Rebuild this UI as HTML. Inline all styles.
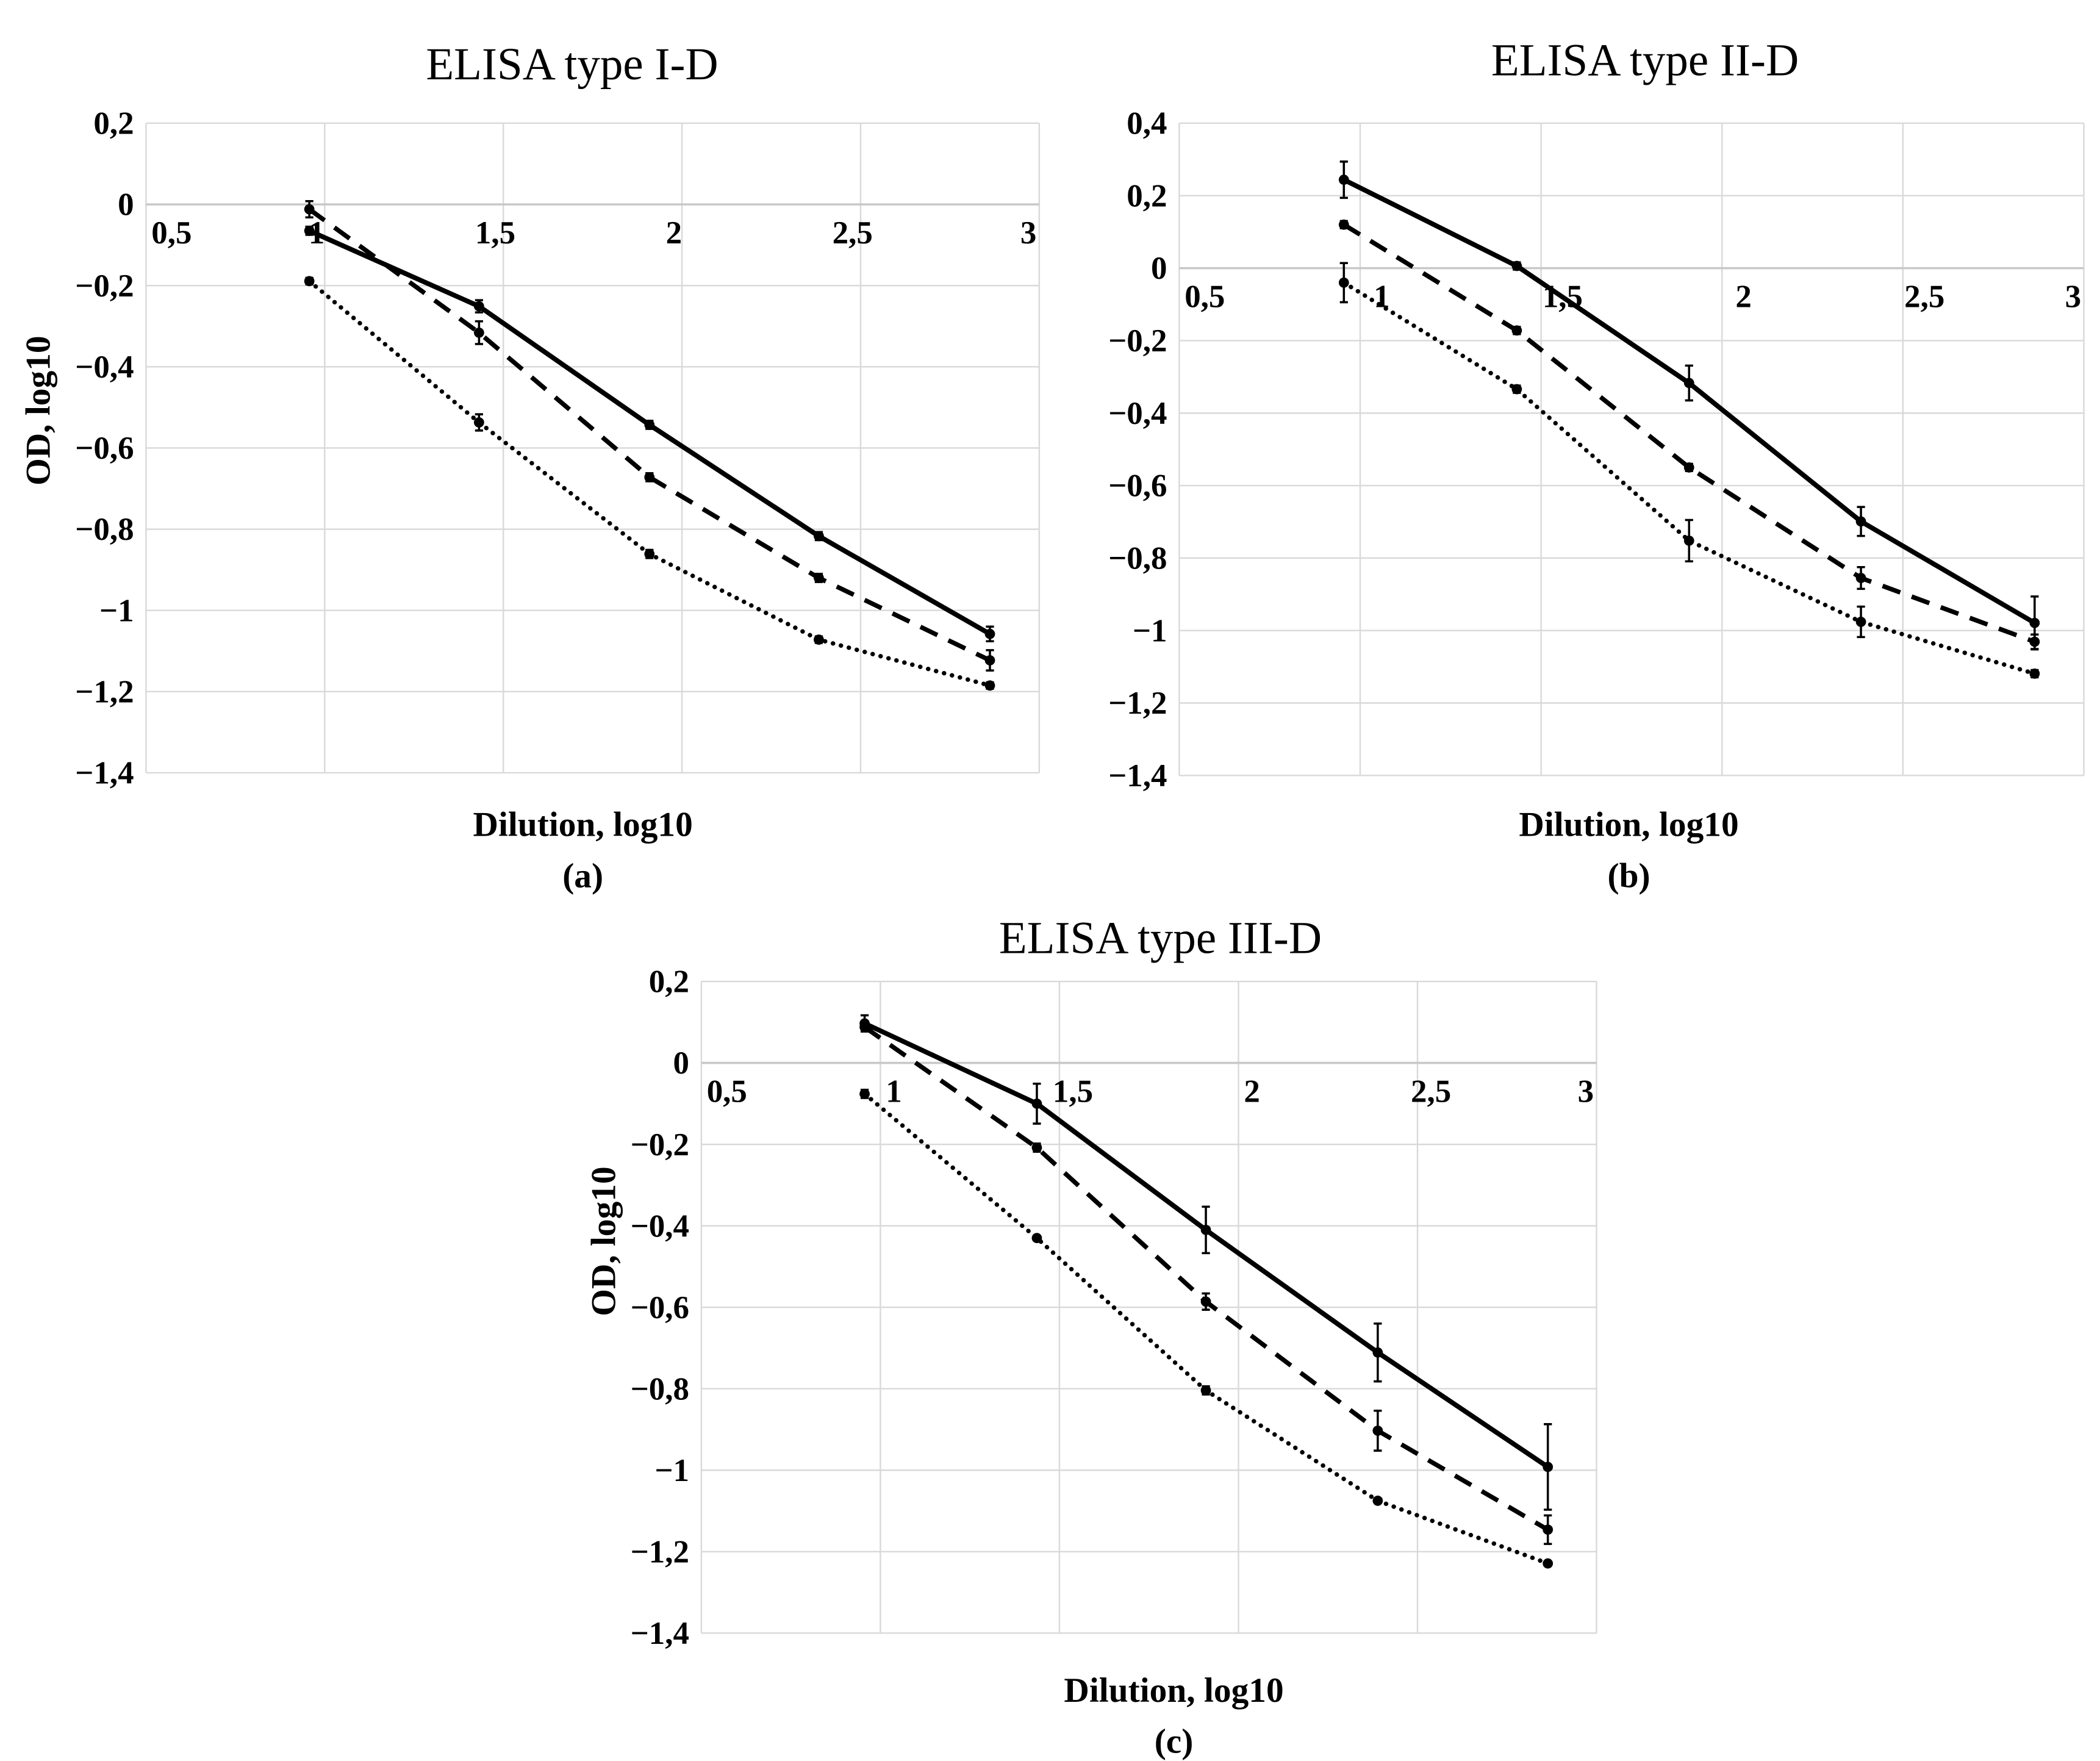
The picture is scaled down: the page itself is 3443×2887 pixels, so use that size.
<!DOCTYPE html>
<html><head><meta charset="utf-8"><style>
html,body{margin:0;padding:0;background:#fff;}
svg{display:block;}
text{font-family:"Liberation Serif",serif;fill:#000;}
</style></head><body>
<svg id="fig" width="3443" height="2887" viewBox="0 0 1560 1308" preserveAspectRatio="none" xmlns="http://www.w3.org/2000/svg"></svg>
<script>
// Shared x positions (log10 dilution)
const xA = [0.957, 1.432, 1.909, 2.383, 2.862];
const xB = [0.955, 1.433, 1.909, 2.384, 2.864];
const xC = [0.956, 1.437, 1.909, 2.389, 2.864];
// Panel (a) ELISA type I-D
const aSolid = [-0.065, -0.251, -0.543, -0.817, -1.058];
const aSolidErr = [0.01, 0.015, 0.01, 0.01, 0.018];
const aDashed = [-0.012, -0.316, -0.672, -0.92, -1.123];
const aDashedErr = [0.02, 0.028, 0.01, 0.01, 0.025];
const aDotted = [-0.189, -0.537, -0.861, -1.072, -1.185];
const aDottedErr = [0.008, 0.02, 0.01, 0.008, 0.008];
// Panel (b) ELISA type II-D
const bSolid = [0.244, 0.006, -0.317, -0.699, -0.979];
const bSolidErr = [0.05, 0.01, 0.048, 0.04, 0.073];
const bDashed = [0.12, -0.172, -0.55, -0.855, -1.031];
const bDashedErr = [0.01, 0.01, 0.01, 0.03, 0.02];
const bDotted = [-0.04, -0.334, -0.752, -0.976, -1.119];
const bDottedErr = [0.054, 0.01, 0.057, 0.042, 0.01];
// Panel (c) ELISA type III-D
const cSolid = [0.097, -0.1, -0.41, -0.711, -0.992];
const cSolidErr = [0.02, 0.049, 0.057, 0.071, 0.105];
const cDashed = [0.088, -0.208, -0.586, -0.903, -1.146];
const cDashedErr = [0.01, 0.01, 0.02, 0.049, 0.035];
const cDotted = [-0.076, -0.43, -0.804, -1.075, -1.229];
const cDottedErr = [0.01, 0.005, 0.01, 0.005, 0.005];
// Tick labels
const xTicks = [0.5, 1, 1.5, 2, 2.5, 3];
const xTickLabels = ["0,5", "1", "1,5", "2", "2,5", "3"];
const yTicksAC = [0.2, 0, -0.2, -0.4, -0.6, -0.8, -1, -1.2, -1.4];
const yLabelsAC = ["0,2", "0", "\u22120,2", "\u22120,4", "\u22120,6", "\u22120,8", "\u22121", "\u22121,2", "\u22121,4"];
const yTicksB = [0.4, 0.2, 0, -0.2, -0.4, -0.6, -0.8, -1, -1.2, -1.4];
const yLabelsB = ["0,4", "0,2", "0", "\u22120,2", "\u22120,4", "\u22120,6", "\u22120,8", "\u22121", "\u22121,2", "\u22121,4"];

const NS = "http://www.w3.org/2000/svg";
const svg = document.getElementById("fig");
function el(tag, attrs, parent) {
  const e = document.createElementNS(NS, tag);
  for (const k in attrs) e.setAttribute(k, attrs[k]);
  (parent || svg).appendChild(e);
  return e;
}

function panel(cfg) {
  const g = el("g", {});
  
  
  const sx = v => cfg.L + (v - 0.5) / 2.5 * (cfg.R - cfg.L);
  const sy = v => cfg.T + (cfg.yMax - v) / (cfg.yMax - cfg.yMin) * (cfg.B - cfg.T);
  cfg.yTicks.forEach((t, i) => {
    const l = el("line", {x1: cfg.L, x2: cfg.R, y1: sy(t), y2: sy(t), stroke: "#d9d9d9", "stroke-width": 1.1}, g);
    
    
    const tx = el("text", {x: cfg.L - 9, y: sy(t) + 8, "text-anchor": "end", "font-size": 24, "font-weight": "bold"}, g);
    tx.textContent = cfg.yLabels[i];
    
    
  });
  xTicks.forEach((t, i) => {
    const l = el("line", {x1: sx(t), x2: sx(t), y1: cfg.T, y2: cfg.B, stroke: "#d9d9d9", "stroke-width": 1.1}, g);
    
    
  });
  const z = el("line", {x1: cfg.L, x2: cfg.R, y1: sy(0), y2: sy(0), stroke: "#c8c8c8", "stroke-width": 1.6}, g);
  
  
  xTicks.forEach((t, i) => {
    let x = sx(t) + cfg.dx, anchor = "middle";
    if (i === 0) { x = cfg.L + 4; anchor = "start"; }
    if (i === xTicks.length - 1) { x = cfg.R - 2; anchor = "end"; }
    const tx = el("text", {x: x, y: sy(0) + 29, "text-anchor": anchor, "font-size": 24, "font-weight": "bold"}, g);
    tx.textContent = xTickLabels[i];
    
    
  });
  const styles = {
    solid: {w: 3.6, dash: "none", cap: "butt"},
    dashed: {w: 3.4, dash: "14 9", cap: "butt"},
    dotted: {w: 3.3, dash: "0.1 6", cap: "round"}
  };
  cfg.series.forEach(s => {
    const st = styles[s.style];
    const pts = s.y.map((v, i) => sx(cfg.x[i]) + "," + sy(v)).join(" ");
    const pl = el("polyline", {points: pts, fill: "none", stroke: "#000", "stroke-width": st.w, "stroke-dasharray": st.dash, "stroke-linecap": st.cap, "stroke-linejoin": "round"}, g);
    
    
    s.y.forEach((v, i) => {
      const x = sx(cfg.x[i]), e = s.err[i];
      const eb = el("path", {d: `M${x},${sy(v + e)}V${sy(v - e)}M${x - 3},${sy(v + e)}H${x + 3}M${x - 3},${sy(v - e)}H${x + 3}`, stroke: "#000", "stroke-width": 1.6, fill: "none"}, g);
      
      
      const c = el("circle", {cx: x, cy: sy(v), r: 3.8, fill: "#000"}, g);
      
      
    });
  });
  const t = el("text", {x: cfg.titleX, y: cfg.titleY, "text-anchor": "middle", "font-size": 34}, g);
  t.textContent = cfg.title;
  
  
  const xt = el("text", {x: cfg.xtX, y: cfg.xtY, "text-anchor": "middle", "font-size": 26, "font-weight": "bold"}, g);
  xt.textContent = "Dilution, log10";
  
  
  const pt = el("text", {x: cfg.xtX, y: cfg.xtY + 38, "text-anchor": "middle", "font-size": 26, "font-weight": "bold"}, g);
  pt.textContent = cfg.label;
  
  
  if (cfg.ytX) {
    const yt = el("text", {x: cfg.ytX, y: cfg.ytY, "text-anchor": "middle", "font-size": 26, "font-weight": "bold", transform: `rotate(-90 ${cfg.ytX} ${cfg.ytY})`}, g);
    yt.textContent = "OD, log10";
    
    
  }
}

panel({name: "panel-a", L: 108.5, R: 772, T: 91.5, B: 574, yMax: 0.2, yMin: -1.4, yTicks: yTicksAC, yLabels: yLabelsAC, dx: -6, x: xA,
  series: [{style: "solid", y: aSolid, err: aSolidErr}, {style: "dashed", y: aDashed, err: aDashedErr}, {style: "dotted", y: aDotted, err: aDottedErr}],
  title: "ELISA type I-D", titleX: 425, titleY: 59, xtX: 433, xtY: 621, label: "(a)", ytX: 37, ytY: 305});
panel({name: "panel-b", L: 876, R: 1548, T: 91.5, B: 576, yMax: 0.4, yMin: -1.4, yTicks: yTicksB, yLabels: yLabelsB, dx: 16, x: xB,
  series: [{style: "solid", y: bSolid, err: bSolidErr}, {style: "dashed", y: bDashed, err: bDashedErr}, {style: "dotted", y: bDotted, err: bDottedErr}],
  title: "ELISA type II-D", titleX: 1222, titleY: 56, xtX: 1210, xtY: 621, label: "(b)"});
panel({name: "panel-c", L: 521, R: 1186, T: 729, B: 1213, yMax: 0.2, yMin: -1.4, yTicks: yTicksAC, yLabels: yLabelsAC, dx: 10, x: xC,
  series: [{style: "solid", y: cSolid, err: cSolidErr}, {style: "dashed", y: cDashed, err: cDashedErr}, {style: "dotted", y: cDotted, err: cDottedErr}],
  title: "ELISA type III-D", titleX: 862, titleY: 708, xtX: 872, xtY: 1264, label: "(c)", ytX: 457, ytY: 922});
</script>
</body></html>
